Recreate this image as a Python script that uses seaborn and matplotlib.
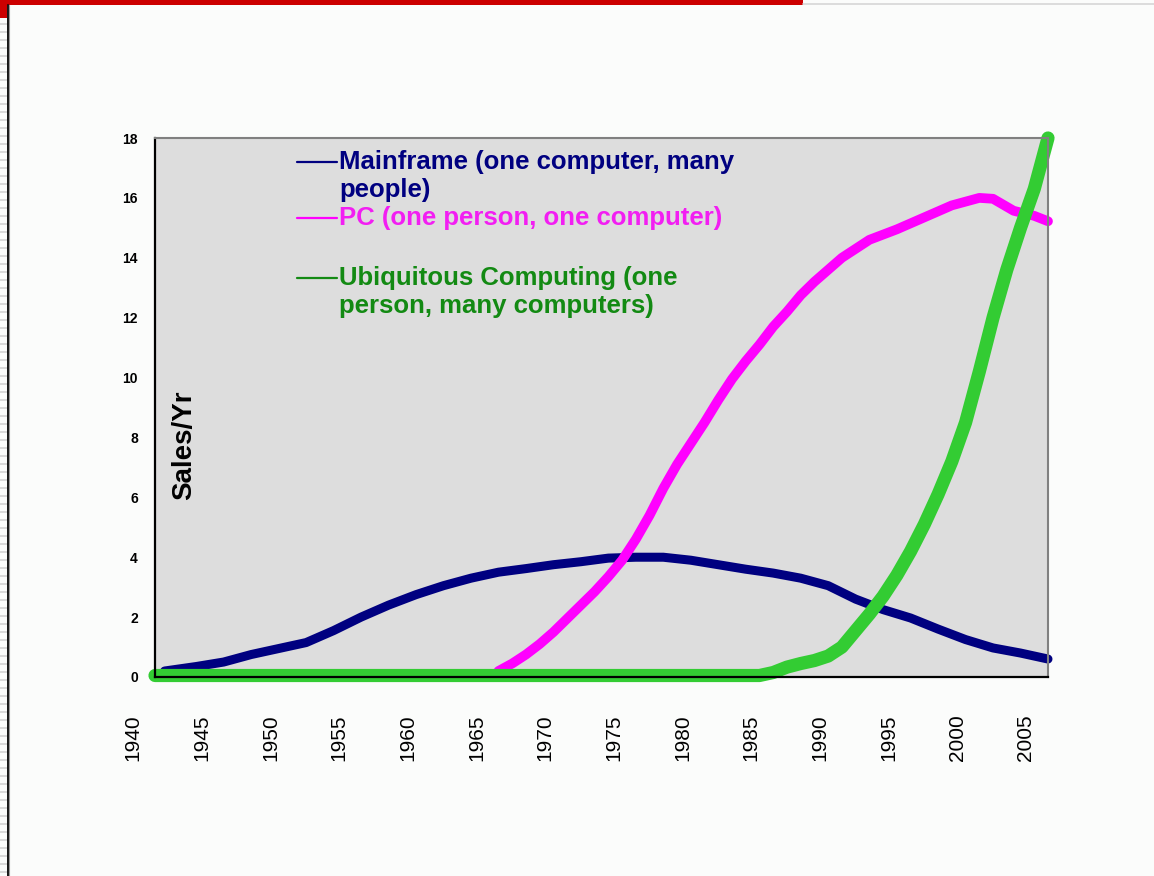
import pandas as pd
import matplotlib
matplotlib.use("Agg")
import matplotlib.pyplot as plt
from matplotlib.lines import Line2D
from matplotlib.patches import Rectangle
from matplotlib.transforms import ScaledTranslation
import seaborn as sns

# values
mf_years = [1940.7, 1943, 1945, 1947, 1949, 1951, 1953, 1955, 1957, 1959, 1961,
            1963, 1965, 1967, 1969, 1971, 1973, 1975, 1977, 1979, 1981, 1983,
            1985, 1987, 1989, 1991, 1993, 1995, 1997, 1999, 2001, 2003, 2005]
mf_sales = [0.2, 0.35, 0.5, 0.75, 0.95, 1.15, 1.55, 2.0, 2.4, 2.75, 3.05,
            3.3, 3.5, 3.62, 3.75, 3.85, 3.97, 4.0, 4.0, 3.9, 3.75, 3.6,
            3.47, 3.3, 3.05, 2.6, 2.25, 1.97, 1.6, 1.25, 0.97, 0.8, 0.6]

pc_years = [1965, 1966, 1967, 1968, 1969, 1970, 1971, 1972, 1973, 1974, 1975,
            1976, 1977, 1978, 1979, 1980, 1981, 1982, 1983, 1984, 1985, 1986,
            1987, 1988, 1989, 1990, 1992, 1994, 1996, 1998, 2000, 2001, 2002.5,
            2004, 2005]
pc_sales = [0.2, 0.45, 0.75, 1.1, 1.5, 1.95, 2.4, 2.85, 3.35, 3.9, 4.6,
            5.4, 6.3, 7.1, 7.8, 8.5, 9.25, 9.95, 10.55, 11.1, 11.7, 12.2,
            12.75, 13.2, 13.6, 14.0, 14.6, 14.95, 15.35, 15.75, 16.0, 15.97, 15.57,
            15.4, 15.22]

uc_years = [1940, 1984, 1985, 1986, 1987, 1988, 1989, 1990, 1991, 1992, 1993,
            1994, 1995, 1996, 1997, 1998, 1999, 2000, 2001, 2002, 2003, 2004, 2005]
uc_sales = [0.05, 0.05, 0.15, 0.33, 0.45, 0.55, 0.7, 1.0, 1.55, 2.1, 2.7,
            3.4, 4.2, 5.1, 6.1, 7.2, 8.5, 10.2, 12.0, 13.6, 15.0, 16.3, 18.0]

series_names = ["Mainframe", "PC", "Ubiquitous"]
legend_labels = ["Mainframe (one computer, many\npeople)",
                 "PC (one person, one computer)",
                 "Ubiquitous Computing (one\nperson, many computers)"]
line_colors = ["#000080", "#FF00FF", "#33CC33"]
text_colors = ["#000080", "#F21EF2", "#138A13"]
line_widths = [6.5, 7, 9.5]

x_ticks = list(range(1940, 2006, 5))
y_ticks = list(range(0, 19, 2))

frames = []
for name, yrs, vals in [("Mainframe", mf_years, mf_sales),
                        ("PC", pc_years, pc_sales),
                        ("Ubiquitous", uc_years, uc_sales)]:
    frames.append(pd.DataFrame({"year": yrs, "sales": vals, "series": name}))
df = pd.concat(frames, ignore_index=True)

sns.set_style("white")
plt.rcParams["font.family"] = ["Liberation Sans", "DejaVu Sans"]
plt.rcParams["text.color"] = "black"
plt.rcParams["axes.labelcolor"] = "black"

fig, ax = plt.subplots(figsize=(11.54, 8.76), dpi=100)
fig.patch.set_facecolor("#FBFCFB")
fig.subplots_adjust(left=155/1154, right=1048/1154, top=1-138/876, bottom=1-677/876)
ax.set_facecolor("#DDDDDD")

for name, col, lw in zip(series_names, line_colors, line_widths):
    sns.lineplot(data=df[df["series"] == name], x="year", y="sales",
                 color=col, linewidth=lw, ax=ax, legend=False)
for ln in ax.lines:
    ln.set_clip_on(False)
    ln.set_solid_capstyle("round")
    ln.set_solid_joinstyle("round")

ax.set_xlim(1940, 2005)
ax.set_ylim(0, 18)
ax.set_xticks(x_ticks)
ax.set_yticks(y_ticks)
ax.set_xticklabels([str(t) for t in x_ticks], rotation=90, fontsize=15)
ax.set_yticklabels([str(t) for t in y_ticks], fontsize=10, fontweight="bold")
ax.tick_params(axis="x", direction="inout", length=12, width=1.3, pad=21, colors="black")
ax.tick_params(axis="y", direction="inout", length=8.6, width=1.3, pad=8, colors="black")
shift = ScaledTranslation(-0.22, 0, fig.dpi_scale_trans)
for lab in ax.get_xticklabels():
    lab.set_transform(lab.get_transform() + shift)

for side in ["left", "bottom"]:
    ax.spines[side].set_color("black")
    ax.spines[side].set_linewidth(1.6)
for side in ["top", "right"]:
    ax.spines[side].set_color("#808080")
    ax.spines[side].set_linewidth(1.5)

ax.set_xlabel("")
ax.set_ylabel("Sales/Yr", fontsize=20, fontweight="bold", rotation=90, color="black")
ax.yaxis.set_label_coords(0.047, 0.43)

# hand-made legend (Excel style, handle on first text line)
handle_px = [162, 218, 278]
for lab, lc, tc, hp in zip(legend_labels, line_colors, text_colors, handle_px):
    hc = "#138A13" if lc == "#33CC33" else lc
    ly = (677 - hp) / 539
    ax.plot([0.159, 0.204], [ly, ly], transform=ax.transAxes, color=hc, lw=1.6)
    ax.text(0.206, (677 - (hp - 12)) / 539, lab, transform=ax.transAxes, color=tc,
            fontsize=18.5, fontweight="bold", va="top", ha="left",
            linespacing=1.22)

# slide decorations
fig.add_artist(Rectangle((0, 1-5/876), 803/1154, 5/876, transform=fig.transFigure,
                         color="#CC0000", lw=0))
fig.add_artist(Rectangle((0, 1-18/876), 7/1154, 18/876, transform=fig.transFigure,
                         color="#CC0000", lw=0))
fig.add_artist(Line2D([803/1154, 1], [1-3.5/876]*2, color="#D6D6D6", lw=1.2))
for yy in range(24, 876, 8):
    fig.add_artist(Line2D([0, 7/1154], [1-yy/876]*2, color="#CFCFCF", lw=1.1))
fig.add_artist(Line2D([7.8/1154]*2, [0, 1-5/876], color="black", lw=1.3))
fig.add_artist(Line2D([9/1154]*2, [0, 1-5/876], color="#999999", lw=0.8))

fig.savefig("out.png", dpi=100, facecolor=fig.get_facecolor())
